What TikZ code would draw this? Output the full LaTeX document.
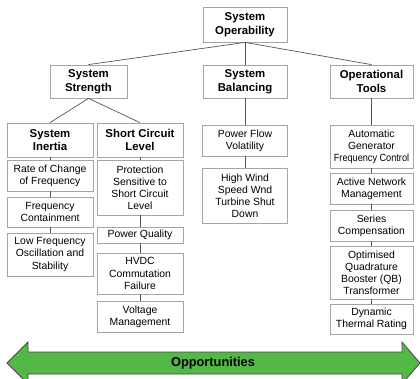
\documentclass[tikz,border=0pt]{standalone}
\usepackage{fontspec}
\setmainfont{Liberation Sans}
\definecolor{boxgray}{RGB}{165,165,165}
\definecolor{linegray}{RGB}{85,85,85}
\definecolor{oppgreen}{RGB}{84,184,72}
\definecolor{arrowedge}{RGB}{70,70,70}
\begin{document}
\begin{tikzpicture}[x=1pt,y=-1pt,
 box/.style={draw=boxgray, line width=0.8pt, fill=white, align=center, inner sep=0.5pt, font=\fontsize{10.4}{12.1}\selectfont},
 head/.style={box, font=\fontsize{11.4}{13.6}\selectfont\bfseries},
 link/.style={draw=linegray, line width=0.7pt}]
\useasboundingbox (0,0) rectangle (420,379);
\clip (0,0) rectangle (420,379);
% top
\node[head, minimum width=84pt, minimum height=35pt] (op) at (245,24.5) {System\\Operability};
\node[head, minimum width=77pt, minimum height=33pt] (ss) at (88.5,81.5) {System\\Strength};
\node[head, minimum width=84pt, minimum height=33pt] (sb) at (245,81.5) {System\\Balancing};
\node[head, minimum width=83pt, minimum height=33pt] (ot) at (371.5,81.5) {Operational\\Tools};
\node[head, minimum width=86pt, minimum height=34pt] (si) at (50,140) {System\\Inertia};
\node[head, minimum width=86pt, minimum height=34pt] (scl) at (140,140) {Short Circuit\\Level};
% inertia
\node[box, minimum width=86pt, minimum height=31pt] (r1) at (50,175.5) {Rate of Change\\of Frequency};
\node[box, minimum width=86pt, minimum height=30pt] (r2) at (50,212) {Frequency\\Containment};
\node[box, minimum width=86pt, minimum height=43pt] (r3) at (50,254.5) {Low Frequency\\Oscillation and\\Stability};
% short circuit
\node[box, minimum width=86pt, minimum height=55pt] (c1) at (140,187.5) {Protection\\Sensitive to\\Short Circuit\\Level};
\node[box, minimum width=86pt, minimum height=16pt] (c2) at (140,235) {Power Quality};
\node[box, minimum width=86pt, minimum height=41pt] (c3) at (140,273.5) {HVDC\\Commutation\\Failure};
\node[box, minimum width=86pt, minimum height=31pt] (c4) at (140,316.5) {Voltage\\Management};
% balancing
\node[box, minimum width=85pt, minimum height=31pt] (b1) at (245,140.5) {Power Flow\\Volatility};
\node[box, minimum width=85pt, minimum height=55pt] (b2) at (245,195.5) {High Wind\\Speed Wnd\\Turbine Shut\\Down};
% operational tools
\node[box, minimum width=83pt, minimum height=43pt] (o1) at (371.5,146.5) {Automatic\\Generator\\\scalebox{0.88}[1]{Frequency Control}};
\node[box, minimum width=83pt, minimum height=31pt] (o2) at (371.5,188.5) {Active Network\\Management};
\node[box, minimum width=83pt, minimum height=31pt] (o3) at (371.5,225.5) {Series\\Compensation};
\node[box, minimum width=83pt, minimum height=53pt] (o4) at (371.5,272.5) {Optimised\\Quadrature\\Booster (QB)\\Transformer};
\node[box, minimum width=83pt, minimum height=30pt] (o5) at (371.5,319) {Dynamic\\Thermal Rating};
% connectors
\draw[link] (op.south) -- (ss.north);
\draw[link] (op.south) -- (sb.north);
\draw[link] (op.south) -- (ot.north);
\draw[link] (ss.south) -- (si.north);
\draw[link] (ss.south) -- (scl.north);
\draw[link] (si.south) -- (r1.north);
\draw[link] (r1.south) -- (r2.north);
\draw[link] (r2.south) -- (r3.north);
\draw[link] (scl.south) -- (c1.north);
\draw[link] (c1.south) -- (c2.north);
\draw[link] (c2.south) -- (c3.north);
\draw[link] (c3.south) -- (c4.north);
\draw[link] (sb.south) -- (b1.north);
\draw[link] (b1.south) -- (b2.north);
\draw[link] (ot.south) -- (o1.north);
\draw[link] (o1.south) -- (o2.north);
\draw[link] (o2.south) -- (o3.north);
\draw[link] (o3.south) -- (o4.north);
\draw[link] (o4.south) -- (o5.north);
% opportunities arrow
\draw[fill=oppgreen, draw=arrowedge, line width=0.8pt, line join=miter]
  (7,363) -- (28,342) -- (28,352) -- (402,352) -- (402,342) -- (420,363)
  -- (402,384) -- (402,374) -- (28,374) -- (28,384) -- cycle;
\node[font=\fontsize{12.8}{15}\selectfont\bfseries] (opp) at (213,363) {Opportunities};
\end{tikzpicture}
\end{document}
